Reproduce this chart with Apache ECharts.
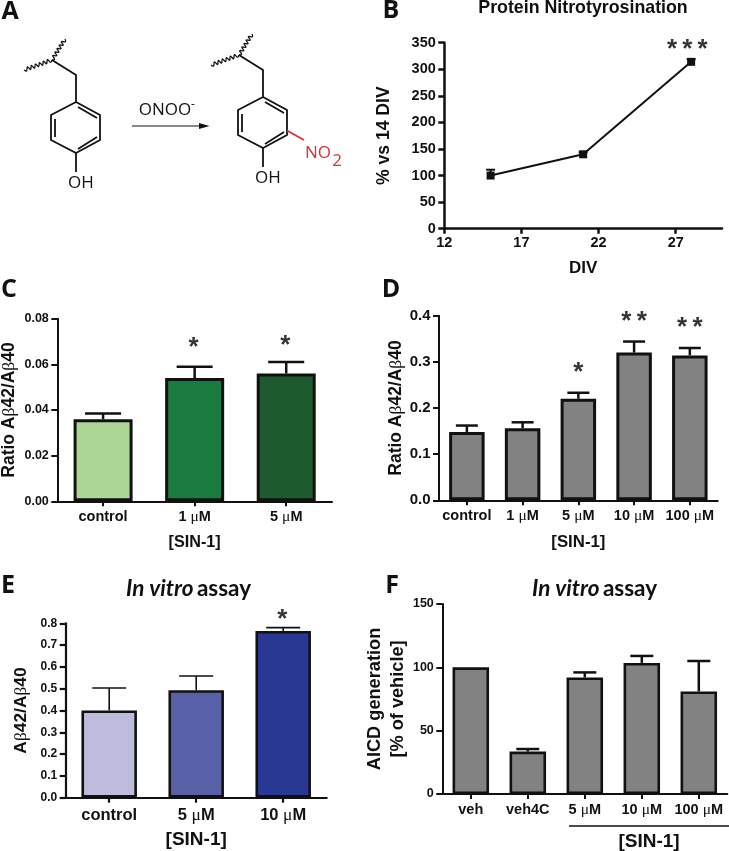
<!DOCTYPE html>
<html><head><meta charset="utf-8">
<style>html,body{margin:0;padding:0;background:#fff}#c{width:729px;height:851px}</style>
<script src="https://cdn.jsdelivr.net/npm/echarts@6/dist/echarts.min.js"></script>
</head><body><div id="c"></div>
<script>
// Panel B
const divX = [15, 21, 28];
const nitroY = [100, 140, 314];
const nitroErr = [11, 4, 5];
const divTicks = [12, 17, 22, 27];
// Panel C
const catsC = ['control', '1 μM', '5 μM'];
const valC = [0.036, 0.054, 0.056];
const errC = [0.0385, 0.059, 0.061];
const colC = ['#acd696', '#1a7b3e', '#1d5a2e'];
const sigC = ['', '*', '*'];
const sigYC = [0, 0.0673, 0.0679];
// Panel D
const catsD = ['control', '1 μM', '5 μM', '10 μM', '100 μM'];
const valD = [0.148, 0.156, 0.22, 0.32, 0.314];
const errD = [0.162, 0.169, 0.233, 0.344, 0.33];
const sigD = ['', '', '*', '*\u2009*', '*\u2009*'];
const sigYD = [0, 0, 0.277, 0.386, 0.3735];
// Panel E
const catsE = ['control', '5 μM', '10 μM'];
const valE = [0.40, 0.493, 0.765];
const errE = [0.503, 0.558, 0.78];
const colE = ['#bdbcdd', '#5860a8', '#283893'];
const sigE = ['', '', '*'];
const sigYE = [0, 0, 0.8];
// Panel F
const catsF = ['veh', 'veh4C', '5 μM', '10 μM', '100 μM'];
const valF = [100, 33.5, 92, 103.5, 81];
const errF = [100, 35.5, 96, 109, 105];

const GREY = '#828282', INK = '#111';
const SANS = '"Liberation Sans", Arial, sans-serif';
const muRich = s => ({fontFamily: '"Liberation Serif", serif', fontWeight: 'normal', fontSize: s});
const withGreek = t => t.replace(/μ/g, '{g|μ}').replace(/β/g, '{g|β}');

const grids = [], xAxes = [], yAxes = [], series = [];
const addGrid = (left, top, width, height) => grids.push({left, top, width, height, outerBoundsMode: 'none', containLabel: false});

function yAxis(name, gap, min, max, step, digits, fs, nameFs, lw, lh) {
  return {
    type: 'value', gridIndex: grids.length - 1, min, max, interval: step,
    name: withGreek(name), nameLocation: 'middle', nameGap: gap,
    nameTextStyle: {fontFamily: SANS, fontWeight: 'bold', fontSize: nameFs, color: INK, lineHeight: lh || nameFs + 2,
      rich: {g: {...muRich(nameFs)}}},
    splitLine: {show: false},
    axisLine: {show: true, onZero: false, lineStyle: {color: INK, width: lw}},
    axisTick: {show: true, length: 6, lineStyle: {color: INK, width: lw}},
    axisLabel: {margin: 8.5, fontFamily: SANS, fontWeight: 'bold', fontSize: fs, color: INK,
      formatter: v => v.toFixed(digits)}
  };
}
function catAxis(cats, name, gap, fs, nameFs, lw, margin) {
  return {
    type: 'category', gridIndex: grids.length - 1, data: cats,
    name, nameLocation: 'middle', nameGap: gap,
    nameTextStyle: {fontFamily: SANS, fontWeight: 'bold', fontSize: nameFs, color: INK},
    axisLine: {show: true, lineStyle: {color: INK, width: lw}},
    axisTick: {show: true, alignWithLabel: true, length: 5, lineStyle: {color: INK, width: lw}},
    axisLabel: {interval: 0, margin, fontFamily: SANS, fontWeight: 'bold', fontSize: fs, color: INK,
      formatter: v => withGreek(v), rich: {g: {...muRich(fs + 1)}}}
  };
}
function errorSeries(idx, points, capW, lw) {
  return {
    type: 'custom', xAxisIndex: idx, yAxisIndex: idx, z: 1, silent: true, clip: false,
    data: points,
    renderItem(p, api) {
      const a = api.coord([api.value(0), api.value(1)]);
      const b = api.coord([api.value(0), api.value(2)]);
      const style = {stroke: INK, lineWidth: lw, fill: null};
      return {type: 'group', children: [
        {type: 'line', shape: {x1: a[0], y1: a[1], x2: b[0], y2: b[1]}, style},
        {type: 'line', shape: {x1: a[0] - capW / 2, y1: b[1], x2: a[0] + capW / 2, y2: b[1]}, style}
      ]};
    }
  };
}
function sigSeries(idx, cats, sig, sigY, fs, dx, dy) {
  return {
    type: 'scatter', xAxisIndex: idx, yAxisIndex: idx, symbolSize: 0, silent: true, z: 5,
    data: sig.map((s, i) => ({value: [cats[i], sigY[i]], s})).filter(d => d.s),
    label: {show: true, position: 'inside', offset: [dx, dy], formatter: p => p.data.s,
      fontFamily: SANS, fontWeight: 'bold', fontSize: fs, color: '#000'}
  };
}
function barPanel(o) {
  addGrid(o.l, o.t, o.w, o.h);
  const idx = grids.length - 1;
  xAxes.push(catAxis(o.cats, o.xName, o.xGap, o.xFs, o.xNameFs, o.lw, o.xMargin));
  yAxes.push(yAxis(o.yName, o.yGap, 0, o.max, o.step, o.digits, o.yFs, o.yNameFs, o.lw, o.yLh));
  series.push(errorSeries(idx, o.cats.map((c, i) => [i, o.val[i], o.err[i]]).filter(p => p[2] > p[1]), o.cap, o.errW));
  series.push({
    type: 'bar', xAxisIndex: idx, yAxisIndex: idx, barWidth: o.barW, z: 2,
    data: o.val.map((v, i) => ({value: v, itemStyle: {color: o.col ? o.col[i] : GREY}})),
    itemStyle: {borderColor: INK, borderWidth: o.bw}
  });
  if (o.sig) series.push(sigSeries(idx, o.cats, o.sig, o.sigY, o.sigFs, o.sigDx || 0, o.sigDy || 0));
}

// Panel B
addGrid(444.3, 42.7, 277.7, 186);
xAxes.push({
  type: 'value', gridIndex: 0, min: 12, max: 30,
  name: 'DIV', nameLocation: 'middle', nameGap: 31,
  nameTextStyle: {fontFamily: SANS, fontWeight: 'bold', fontSize: 17, color: INK},
  splitLine: {show: false},
  axisLine: {show: true, onZero: false, lineStyle: {color: INK, width: 2.5}},
  axisTick: {show: true, length: 5, customValues: divTicks, lineStyle: {color: INK, width: 2.5}},
  axisLabel: {margin: 7, customValues: divTicks, fontFamily: SANS, fontWeight: 'bold', fontSize: 14.5, color: INK}
});
yAxes.push(yAxis('% vs 14 DIV', 50, 0, 350, 50, 0, 14.5, 17.6, 2.5));
series.push(errorSeries(0, divX.map((x, i) => [x, nitroY[i], nitroY[i] + nitroErr[i]]), 9, 2));
series.push({type: 'line', xAxisIndex: 0, yAxisIndex: 0, z: 3, symbol: 'rect', symbolSize: 8,
  data: divX.map((x, i) => [x, nitroY[i]]),
  lineStyle: {color: INK, width: 2}, itemStyle: {color: INK}});
series.push({type: 'scatter', xAxisIndex: 0, yAxisIndex: 0, symbolSize: 0, silent: true, z: 5,
  data: [[27.75, 337]], label: {show: true, position: 'inside', formatter: '*\u2009*\u2009*', fontFamily: SANS, fontWeight: 'bold', fontSize: 26, color: '#000'}});

barPanel({l: 57.3, t: 318.7, w: 274.7, h: 182.6, cats: catsC, val: valC, err: errC, col: colC, sig: sigC, sigY: sigYC,
  max: 0.08, step: 0.02, digits: 2, xName: '[SIN-1]', yName: 'Ratio Aβ42/Aβ40', xGap: 33, yGap: 38, xFs: 14.5, yFs: 12.5,
  xNameFs: 16.2, yNameFs: 17.5, xMargin: 8, lw: 2, barW: 59, bw: 3, cap: 36, errW: 2.5, sigFs: 26, sigDx: -1});
barPanel({l: 439, t: 315.7, w: 278.7, h: 184.6, cats: catsD, val: valD, err: errD, sig: sigD, sigY: sigYD,
  max: 0.4, step: 0.1, digits: 1, xName: '[SIN-1]', yName: 'Ratio Aβ42/Aβ40', xGap: 34, yGap: 33, xFs: 14.5, yFs: 15,
  xNameFs: 16.8, yNameFs: 17.5, xMargin: 8, lw: 2, barW: 35.5, bw: 3, cap: 22, errW: 2.5, sigFs: 26});
barPanel({l: 65.7, t: 623.3, w: 261, h: 174.4, cats: catsE, val: valE, err: errE, col: colE, sig: sigE, sigY: sigYE,
  max: 0.8, step: 0.1, digits: 1, xName: '[SIN-1]', yName: 'Aβ42/Aβ40', xGap: 33, yGap: 35, xFs: 16.5, yFs: 12,
  xNameFs: 19, yNameFs: 17.4, xMargin: 9, lw: 2.2, barW: 55.5, bw: 2.6, cap: 34, errW: 1.6, sigFs: 26, sigDx: -1, sigDy: -3});
barPanel({l: 442.3, t: 604, w: 285, h: 190, cats: catsF, val: valF, err: errF, 
  max: 150, step: 50, digits: 0, xName: '', yName: 'AICD generation\n[% of vehicle]', xGap: 40, yGap: 33, xFs: 14.5, yFs: 12.5,
  xNameFs: 17, yNameFs: 18.2, yLh: 23, xMargin: 8, lw: 2, barW: 36.5, bw: 2.6, cap: 23, errW: 2.5});

// Panel letters, titles, panel A structures
const panelLetters = [['A', 10, 12], ['B', 391, 11], ['C', 9, 290], ['D', 391, 290], ['E', 8, 586], ['F', 392, 586]];
const T = (text, x, y, style) => ({type: 'text', x, y, z: 10, style: {text, textAlign: 'center', textVerticalAlign: 'middle', fill: INK, ...style}});
const L = (points, color, w, smooth) => ({type: 'polyline', z: 10, shape: {points, smooth: smooth || 0}, style: {stroke: color || INK, lineWidth: w || 1.8, fill: null}});
const wave = (x1, y1, x2, y2, n) => {
  const dx = (x2 - x1) / n, dy = (y2 - y1) / n, len = Math.hypot(dx, dy), nx = -dy / len * 1.8, ny = dx / len * 1.8;
  const pts = [[x1, y1]];
  for (let i = 1; i <= n; i++) {
    const s = i === n ? 0 : (i % 2 ? 1 : -1);
    pts.push([x1 + dx * i + nx * s, y1 + dy * i + ny * s]);
  }
  return L(pts, INK, 1.3, 0.4);
};
function tyr(ox, oy, nitro) {
  const P = (x, y) => [x + ox, y + oy];
  const items = [
    wave(...P(24, 70), ...P(52, 60), 14),
    wave(...P(52, 60), ...P(65, 39), 12),
    L([P(52, 60), P(76, 75), P(76, 102), P(100, 115), P(100, 140), P(76, 153), P(51, 140), P(51, 115), P(76, 102)]),
    L([P(78, 107), P(97, 118)]),
    L([P(97, 137), P(78, 149)]),
    L([P(55, 119), P(55, 137)]),
    L([P(76, 153), P(76, 172)]),
    T('OH', ...P(81, 183), {font: '17px "Open Sans"', letterSpacing: 1})
  ];
  if (nitro) items.push(L([P(100, 135.5), P(117, 145)], '#d9332f'));
  return items;
}
const graphics = [
  ...panelLetters.map(([t, x, y]) => T(t, x, y, {font: 'bold 25px "Open Sans"'})),
  T('Protein Nitrotyrosination', 583, 8, {font: 'bold 17.8px ' + SANS}),
  {type: 'text', x: 126, y: 589, z: 10, style: {rich: {i: {font: 'italic bold 22.5px Lato', fill: INK}, n: {font: 'bold 22.5px Lato', fill: INK}},
    text: '{i|In vitro} {n|assay}', textAlign: 'left', textVerticalAlign: 'middle'}},
  {type: 'text', x: 532, y: 589, z: 10, style: {rich: {i: {font: 'italic bold 22.5px Lato', fill: INK}, n: {font: 'bold 22.5px Lato', fill: INK}},
    text: '{i|In vitro} {n|assay}', textAlign: 'left', textVerticalAlign: 'middle'}},
  ...tyr(0, 0, false),
  ...tyr(187, -5, true),
  T('ONOO', 165, 110, {font: '17px "Open Sans"'}),
  T('-', 193, 105, {font: '12px "Open Sans"'}),
  L([[132, 126], [205, 126]], INK, 1.2),
  {type: 'polygon', z: 10, shape: {points: [[199, 123], [209.5, 126], [199, 129]]}, style: {fill: INK}},
  T('NO', 318, 153, {font: '17px "Open Sans"', fill: '#d9332f'}),
  T('2', 337, 161, {font: '17px "Open Sans"', fill: '#d9332f'}),
  L([[569, 826], [729, 826]], INK, 1.3),
  T('[SIN-1]', 649, 842, {font: 'bold 19px ' + SANS})
];

const chart = echarts.init(document.getElementById('c'), null, {renderer: 'canvas'});
chart.setOption({animation: false, backgroundColor: '#fff', grid: grids, xAxis: xAxes, yAxis: yAxes, series, graphic: graphics});
</script></body></html>
